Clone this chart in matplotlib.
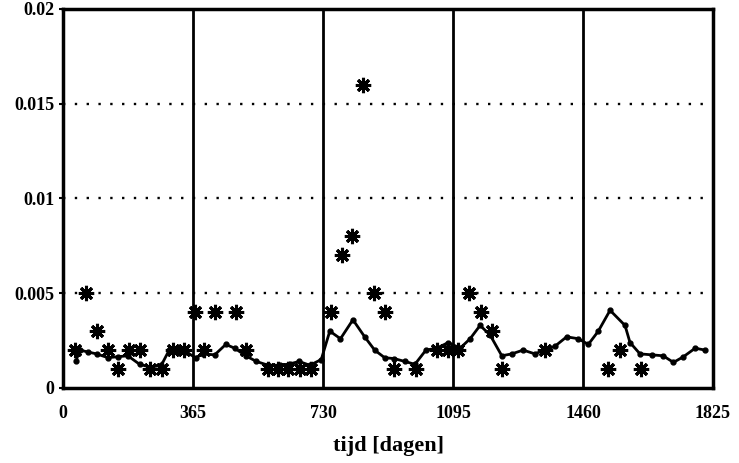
import matplotlib
matplotlib.use("Agg")
import matplotlib.pyplot as plt

# gemeten waarden (sterretjes)
obs_days = [33, 64, 95, 125, 154, 184, 217, 245, 277, 309, 339,
            370, 395, 426, 487, 515, 576, 604, 632, 665, 697,
            753, 784, 812, 843, 873, 904, 930, 992,
            1050, 1082, 1110, 1141, 1173, 1204, 1232, 1353,
            1531, 1564, 1622]
obs_vals = [0.002, 0.005, 0.003, 0.002, 0.001, 0.002, 0.002, 0.001, 0.001, 0.002, 0.002,
            0.004, 0.002, 0.004, 0.004, 0.002, 0.001, 0.001, 0.001, 0.001, 0.001,
            0.004, 0.007, 0.008, 0.016, 0.005, 0.004, 0.001, 0.001,
            0.002, 0.002, 0.002, 0.005, 0.004, 0.003, 0.001, 0.002,
            0.001, 0.002, 0.001]

# model (lijn met punten)
mod_days = [36, 47, 70, 94, 126, 154, 182, 215, 245, 276, 298, 323, 346,
            372, 393, 426, 457, 482, 513, 543, 576, 608, 636, 663, 693, 725,
            749, 779, 814, 847, 875, 903, 930, 960, 988, 1019, 1049, 1082,
            1115, 1143, 1171, 1199, 1232, 1260, 1292, 1325, 1353, 1381, 1414,
            1447, 1475, 1503, 1536, 1578, 1592, 1620, 1653, 1685, 1714, 1742,
            1775, 1803]
mod_vals = [0.0014, 0.0020, 0.0019, 0.0018, 0.0016, 0.00165, 0.0017, 0.00125, 0.0011, 0.0012, 0.0020, 0.0020, 0.0019,
            0.0016, 0.0018, 0.00175, 0.0023, 0.0021, 0.0017, 0.0014, 0.0012, 0.0012, 0.00127, 0.0014, 0.0012, 0.0015,
            0.0030, 0.0026, 0.0036, 0.0027, 0.0020, 0.0016, 0.00155, 0.0014, 0.00125, 0.0020, 0.0021, 0.0024,
            0.0021, 0.0026, 0.0033, 0.0028, 0.0017, 0.0018, 0.0020, 0.0018, 0.0020, 0.0022, 0.0027,
            0.0026, 0.0023, 0.0030, 0.0041, 0.0033, 0.0024, 0.0018, 0.00175, 0.0017, 0.00135, 0.00165,
            0.0021, 0.0020]

x_ticks = [0, 365, 730, 1095, 1460, 1825]
y_ticks = [0, 0.005, 0.01, 0.015, 0.02]
y_labels = ['0', '0.005', '0.01', '0.015', '0.02']

plt.rcParams['font.family'] = ['Liberation Serif', 'DejaVu Serif']
plt.rcParams['font.weight'] = 'bold'

fig = plt.figure(figsize=(7.39, 4.63), dpi=100)
ax = fig.add_axes([0.0853, 0.162, 0.8795, 0.8186])

for y in y_ticks[1:-1]:
    ax.axhline(y, color='black', linestyle=(0, (1, 4)), linewidth=1.7, zorder=1)
for x in x_ticks[1:-1]:
    ax.axvline(x, color='black', linewidth=2, zorder=1)

ax.plot(mod_days, mod_vals, color='black', linewidth=2, marker='o', markersize=3.5, zorder=2)
# sterretjes: asterisk met kleine gevulde kern
ax.plot(obs_days, obs_vals, linestyle='none', marker=(8, 2, 0), markersize=11,
        markeredgewidth=2.2, color='black', zorder=3)
ax.plot(obs_days, obs_vals, linestyle='none', marker='o', markersize=5,
        color='black', zorder=3)

ax.set_xlim(0, 1825)
ax.set_ylim(0, 0.02)
ax.set_xticks(x_ticks)
ax.set_xticklabels([str(t) for t in x_ticks])
ax.set_yticks(y_ticks)
ax.set_yticklabels(y_labels)
ax.tick_params(axis='x', length=0, pad=12, labelsize=13)
ax.tick_params(axis='y', length=3, width=1.5, direction='out', pad=3, labelsize=13)

for s in ax.spines.values():
    s.set_linewidth(2.5)

ax.set_xlabel('tijd [dagen]', fontsize=16, fontweight='bold', labelpad=10)

fig.savefig('out.png', dpi=100)
